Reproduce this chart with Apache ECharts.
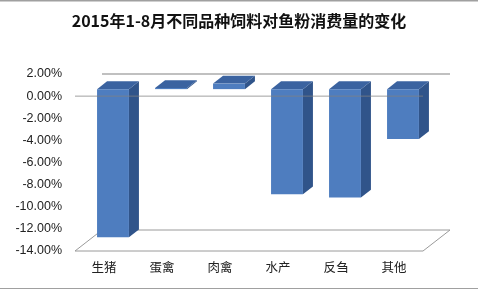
<!DOCTYPE html>
<html><head><meta charset="utf-8">
<script src="https://cdn.jsdelivr.net/npm/echarts@6/dist/echarts.min.js"></script>
<style>html,body{margin:0;padding:0;background:#fff}#c{width:478px;height:291px}</style>
</head><body><div id="c"></div>
<script>
var title = '2015年1-8月不同品种饲料对鱼粉消费量的变化';
var categories = ['生猪', '蛋禽', '肉禽', '水产', '反刍', '其他'];
var values = [-13.4, 0.1, 0.5, -9.5, -9.8, -4.5];
var yMin = -14, yMax = 2, yStep = 2;

var chart = echarts.init(document.getElementById('c'));
var DX = 27, DY = -21; // floor depth
function barItem(params, api) {
  var i = api.value(0), v = api.value(1);
  var p0 = api.coord([i, 0]), p1 = api.coord([i, v]);
  var band = api.size([1, 0])[0];
  var w = band * 0.55;
  var ox = DX / 3, oy = DY / 3, dx = DX * 0.37, dy = DY * 0.37;
  var cx = p0[0] + ox;
  var yA = Math.min(p0[1], p1[1]) + oy, yB = Math.max(p0[1], p1[1]) + oy;
  var xl = cx - w / 2, xr = cx + w / 2;
  return {type: 'group', children: [
    {type: 'polygon', shape: {points: [[xr, yA], [xr + dx, yA + dy], [xr + dx, yB + dy], [xr, yB]]}, style: {fill: '#30548a'}},
    {type: 'polygon', shape: {points: [[xl, yA], [xr, yA], [xr + dx, yA + dy], [xl + dx, yA + dy]]}, style: {fill: '#3b63a0'}},
    {type: 'rect', shape: {x: xl, y: yA, width: w, height: Math.max(yB - yA, 1)}, style: {fill: '#4e7dbf'}}
  ]};
}
function frameItem(params, api) {
  var cs = params.coordSys;
  var x = cs.x, y = cs.y, w = cs.width, h = cs.height;
  var yTop = api.coord([0, yMax])[1];
  return {type: 'group', children: [
    {type: 'polygon', shape: {points: [[x, y + h], [x + w, y + h], [x + w + DX, y + h + DY], [x + DX, y + h + DY]]}, style: {fill: '#fff', stroke: '#9a9a9a', lineWidth: 1}},
    {type: 'line', shape: {x1: x + DX, y1: yTop, x2: x + w + DX, y2: yTop}, style: {stroke: '#c0c0c0', lineWidth: 2}}
  ]};
}
function zeroItem(params, api) {
  var cs = params.coordSys;
  var y0 = api.coord([0, 0])[1];
  return {type: 'line', shape: {x1: cs.x, y1: y0, x2: cs.x + cs.width, y2: y0}, style: {stroke: 'rgba(128,128,128,0.75)', lineWidth: 1}};
}
chart.setOption({
  animation: false,
  title: {text: title, left: 'center', top: 8, textStyle: {fontFamily: 'Noto Sans CJK SC', fontSize: 16, fontWeight: 'bold', color: '#111'}},
  grid: {left: 75, right: 55, top: 74, bottom: 40},
  xAxis: {type: 'category', data: categories, axisLine: {show: false}, axisTick: {show: false},
    axisLabel: {margin: 10, fontSize: 12.5, color: '#222', fontFamily: 'Noto Sans CJK SC'}},
  yAxis: {type: 'value', min: yMin, max: yMax, interval: yStep, axisLine: {show: false}, axisTick: {show: false}, splitLine: {show: false},
    axisLabel: {margin: 13, fontSize: 12.5, color: '#222', fontFamily: 'Liberation Sans',
      formatter: function (v) { return v.toFixed(2) + '%'; }}},
  series: [
    {type: 'custom', renderItem: frameItem, data: [[0, 0]], z: 1, silent: true},
    {type: 'custom', renderItem: barItem, data: values.map(function (v, i) { return [i, v]; }), z: 2},
    {type: 'custom', renderItem: zeroItem, data: [[0, 0]], z: 3, silent: true}
  ],
  graphic: [
    {type: 'line', shape: {x1: 0, y1: 0.5, x2: 478, y2: 0.5}, style: {stroke: '#a0a0a0', lineWidth: 2}},
    {type: 'line', shape: {x1: 0, y1: 288.5, x2: 478, y2: 288.5}, style: {stroke: '#a0a0a0', lineWidth: 1}}
  ]
});
</script></body></html>
